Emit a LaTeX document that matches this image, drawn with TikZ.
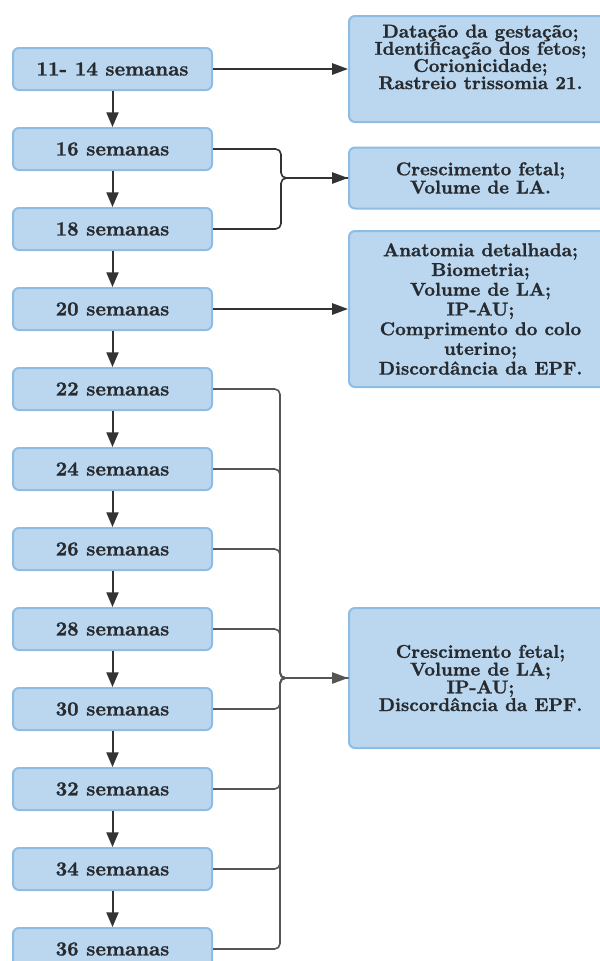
\documentclass[tikz,border=0pt]{standalone}
\usepackage{fontspec}
\setmainfont{lmroman10-regular.otf}[BoldFont=lmroman10-bold.otf, BoldFeatures={FakeBold=1.2}]
\usepackage{tikz}
\usetikzlibrary{arrows.meta}

\definecolor{boxfill}{HTML}{BAD7EF}
\definecolor{boxline}{HTML}{8DBDE4}
\definecolor{txtc}{HTML}{272B30}
\definecolor{arrc}{HTML}{333333}
\definecolor{linkc}{HTML}{555555}

\newcommand{\rfont}[1]{\fontsize{13.9}{#1}\selectfont\lineskiplimit=-20pt\bfseries}

\tikzset{
	wbox/.style={draw=boxline, fill=boxfill, line width=1.5pt, rounded corners=4.5pt,
		minimum width=149.25pt, minimum height=31.5pt, inner sep=0pt,
		text=txtc, font=\fontsize{15}{18}\selectfont\bfseries},
	rbox/.style={draw=boxline, fill=boxfill, line width=1.5pt, rounded corners=4.5pt,
		minimum width=197.25pt, inner sep=0pt, align=center, text=txtc},
	down/.style={draw=arrc, line width=1.5pt, -{Triangle[length=11pt, width=9pt]}},
	link/.style={draw=linkc, line width=1.2pt, rounded corners=4pt},
	linkarr/.style={link, -{Triangle[length=12pt, width=8.5pt]}},
}

\begin{document}
\begin{tikzpicture}[x=0.75pt, y=-0.75pt]
		\useasboundingbox (0,0) rectangle (600,961);
		% semanas
		\foreach[count=\i] \wk in {11- 14,16,18,20,22,24,26,28,30,32,34,36} {
			\node[wbox] (w-\i) at (112.5, {69+80*(\i-1)}) {\wk\ semanas};
		}
		\foreach \i in {1,...,11} {
			\pgfmathtruncatemacro{\j}{\i+1}
			\draw[down] (w-\i) -- (w-\j);
		}
		% exames
		\node[rbox, minimum height=79.5pt] (r-1) at (480.5,69) {};
		\node[align=center, text=txtc, font=\rfont{12.9}] (r-1-t) at (480.5,57)
			{Datação da gestação;\\Identificação dos fetos;\\Corionicidade;\\Rastreio trissomia 21.};
		\node[rbox, minimum height=45.75pt, font=\rfont{13.7}] (r-2) at (480.5,178)
			{Crescimento fetal;\\Volume de LA.};
		\node[rbox, minimum height=117pt, font=\rfont{14.8}] (r-3) at (480.5,309)
			{Anatomia detalhada;\\Biometria;\\Volume de LA;\\IP-AU;\\Comprimento do colo\\uterino;\\Discordância da EPF.};
		\node[rbox, minimum height=105pt, font=\rfont{13.3}] (r-4) at (480.5,678)
			{Crescimento fetal;\\Volume de LA;\\IP-AU;\\Discordância da EPF.};
		\draw[down, -{Triangle[length=12pt, width=8.5pt]}] (w-1) -- (r-1);
		\draw[down, -{Triangle[length=12pt, width=8.5pt]}] (w-4) -- (r-3);
		% chaves
		\coordinate (j-a) at (281,178);
		\coordinate (j-b) at (280,678);
		\draw[linkarr, draw=arrc] (w-2.east) -| (j-a) -- (r-2.west);
		\draw[link, draw=arrc] (w-3.east) -| (j-a) -- (r-2.west);
		\draw[linkarr] (w-5.east) -| (j-b) -- (r-4.west);
		\foreach \i in {6,...,12} {
			\draw[link] (w-\i.east) -| (j-b) -- (r-4.west);
		}
	\end{tikzpicture}
\end{document}
